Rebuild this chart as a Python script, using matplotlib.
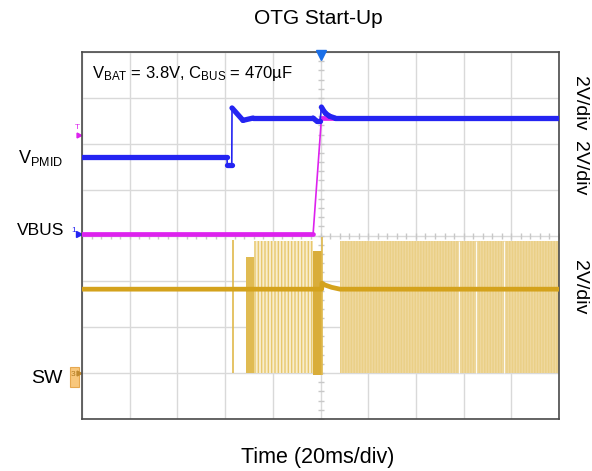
import numpy as np
import matplotlib
matplotlib.use("Agg")
import matplotlib.pyplot as plt
from matplotlib.patches import Rectangle

plt.rcParams['font.family'] = ['Liberation Sans', 'DejaVu Sans']
plt.rcParams['mathtext.fontset'] = 'custom'
plt.rcParams['mathtext.rm'] = 'Liberation Sans'
plt.rcParams['mathtext.it'] = 'Liberation Sans:italic'
plt.rcParams['hatch.linewidth'] = 1.0

# time in ms (20 ms/div, trigger at 0), amplitude in screen divisions (0..8)
vpmid_t = [-100, -39.2, -39.1, -37.2, -37.1, -32.5, -28.3, -3.1, -1.5, -0.2, 0.4, 1.0, 2.2, 3.8, 6.1, 100]
vpmid_y = [5.71, 5.71, 5.53, 5.53, 6.78, 6.51, 6.56, 6.56, 6.49, 6.49, 6.80, 6.74, 6.66, 6.60, 6.56, 6.56]

vbus_t = [-100, -3.1, 0.4, 100]
vbus_y = [4.03, 4.03, 6.56, 6.56]

sw_t = [-100, 0.5, 0.6, 1.9, 4.7, 8.2, 100]
sw_y = [2.83, 2.83, 2.96, 2.92, 2.87, 2.83, 2.83]

# switching bursts (envelopes)
burst_start = [-31.2, -27.9, -3.1, 8.2]
burst_end = [-27.9, -3.1, 0.6, 100]
burst_high = [3.53, 3.88, 3.66, 3.88]
burst_low = [1.0, 1.0, 0.96, 1.0]
burst_kind = ['dense', 'sparse', 'dark', 'pale']

spike_t = [-36.8, 0.6]
spike_high = [3.90, 3.96]
spike_low = [1.0, 0.96]

gap_t = [58.0, 65.2, 76.9]


def draw_trace(ax, t, y, color, thick, z):
    # fast edges show up thin on the scope, flat parts look thick from noise
    for i in range(len(t) - 1):
        dt = t[i + 1] - t[i]
        dy = abs(y[i + 1] - y[i])
        steep = dy / max(dt, 1e-6) > 0.3
        if steep:
            ax.plot(t[i:i + 2], y[i:i + 2], color=color, lw=1.2, solid_capstyle='butt', zorder=z)
        else:
            ax.plot(t[i:i + 2], y[i:i + 2], color=color, lw=thick, solid_capstyle='round', zorder=z)


fig = plt.figure(figsize=(5.92, 4.71), dpi=100)
ax = fig.add_axes([82 / 592, 1 - 419 / 471, 477 / 592, 367 / 471])
ax.set_xlim(-100, 100)
ax.set_ylim(0, 8)
ax.set_xticks(np.arange(-100, 101, 20))
ax.set_yticks(np.arange(0, 9, 1))
ax.tick_params(length=0, labelbottom=False, labelleft=False)
ax.grid(True, color='#d9d9d9', lw=1)
for s in ax.spines.values():
    s.set_color('#4a4a4a')
    s.set_linewidth(1.2)

# center cross minor ticks
ax.plot(np.zeros(41), np.arange(0, 8.01, 0.2), ls='none', marker='_', ms=5, color='#c8c8c8', mew=1)
ax.plot(np.arange(-100, 100.1, 4), np.full(51, 4.0), ls='none', marker='|', ms=5, color='#c8c8c8', mew=1)

fill_style = {
    'dense': dict(facecolor='#e0bb52', edgecolor='#e0bb52', hatch=None),
    'sparse': dict(facecolor='#f8edcd', edgecolor='#e8c86e', hatch='|||||'),
    'dark': dict(facecolor='#d9ad3a', edgecolor='#d9ad3a', hatch=None),
    'pale': dict(facecolor='#efd89e', edgecolor='#eacf86', hatch='||||||'),
}
for t0, t1, hi, lo, kind in zip(burst_start, burst_end, burst_high, burst_low, burst_kind):
    st = fill_style[kind]
    ax.fill_between([t0, t1], [lo, lo], [hi, hi], facecolor=st['facecolor'],
                    edgecolor=st['edgecolor'], hatch=st['hatch'], lw=0, zorder=2)
ax.vlines(spike_t, spike_low, spike_high, color='#e0b94c', lw=1.2, zorder=2)
ax.vlines(gap_t, 1.0, 3.88, color='white', lw=0.8, alpha=0.9, zorder=2)

ax.plot(sw_t, sw_y, color='#d4a21c', lw=3.4, zorder=3)
draw_trace(ax, vbus_t, vbus_y, '#dd22ee', 3.4, 4)
draw_trace(ax, vpmid_t, vpmid_y, '#2424f2', 3.8, 5)

# scope markers
ax.plot(0, 7.94, marker='v', ms=7, color='#1a6fe8', clip_on=False, zorder=6)
ax.text(-101.8, 6.36, 'T', color='#dd22ee', fontsize=6, ha='center', va='center', clip_on=False)
ax.plot(-101.4, 6.18, marker='>', ms=3.5, color='#dd22ee', clip_on=False)
ax.text(-103.4, 4.10, '1', color='#2424f2', fontsize=6, ha='center', va='center', clip_on=False)
ax.plot(-101.2, 4.03, marker='>', ms=4, color='#2424f2', clip_on=False)
ax.add_patch(Rectangle((-105.0, 0.70), 3.8, 0.43, facecolor='#f8c77c', edgecolor='#e6a850',
                       lw=0.8, clip_on=False))
ax.text(-103.6, 0.98, '3', color='#b07a20', fontsize=6, ha='center', va='center', clip_on=False)
ax.plot(-101.3, 1.0, marker='>', ms=3.5, color='#c08a30', clip_on=False)

fig.text(318 / 592, 1 - 19 / 471, 'OTG Start-Up', ha='center', va='center', fontsize=15)
fig.text(318 / 592, 1 - 458 / 471, 'Time (20ms/div)', ha='center', va='center', fontsize=15.5)
fig.text(92 / 592, 1 - 78 / 471, r'V$_{\rm BAT}$ = 3.8V, C$_{\rm BUS}$ = 470µF',
         ha='left', va='baseline', fontsize=12)

fig.text(63 / 592, 1 - 163 / 471, r'V$_{\rm PMID}$', ha='right', va='baseline', fontsize=13)
fig.text(64 / 592, 1 - 235 / 471, 'VBUS', ha='right', va='baseline', fontsize=12.5)
fig.text(62 / 592, 1 - 383 / 471, 'SW', ha='right', va='baseline', fontsize=14)

for yc in [103, 168, 287]:
    fig.text(580 / 592, 1 - yc / 471, '2V/div', rotation=270, ha='center', va='center', fontsize=14)

fig.savefig('out.png', dpi=100)
